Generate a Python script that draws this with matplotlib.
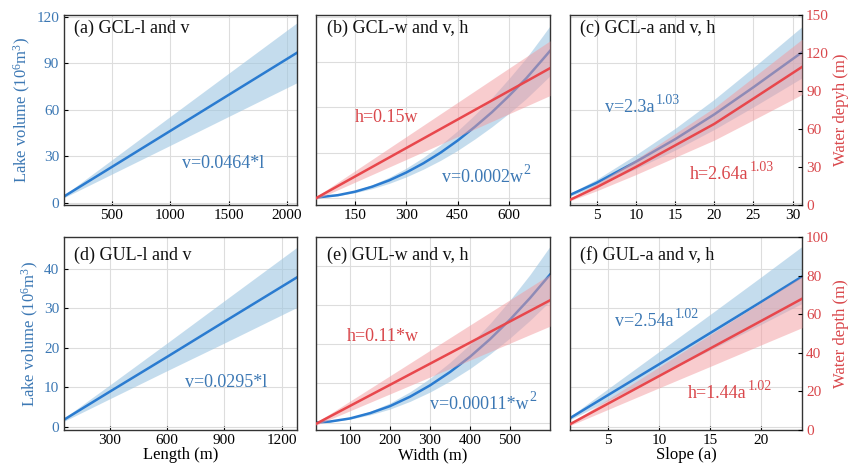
import matplotlib
matplotlib.use("Agg")
import matplotlib.pyplot as plt

plt.rcParams['font.family'] = ['Liberation Serif', 'DejaVu Serif']
plt.rcParams['mathtext.fontset'] = 'custom'
plt.rcParams['mathtext.rm'] = 'Liberation Serif'
plt.rcParams['mathtext.it'] = 'Liberation Serif:italic'
plt.rcParams['mathtext.bf'] = 'Liberation Serif:bold'

# ---------------- data ----------------
# (a) GCL length vs volume
a_l = [90, 500, 1000, 1500, 2085]
a_v = [4.2, 23.2, 46.4, 69.6, 96.7]
a_v_lo = [3.4, 18.6, 37.1, 55.7, 77.4]
a_v_hi = [5.0, 27.8, 55.7, 83.5, 116.0]

# (b) GCL width vs volume / depth
b_w = [36, 100, 150, 200, 250, 300, 350, 400, 450, 500, 550, 600, 650, 700, 720]
b_v = [0.3, 1.9, 4.2, 7.5, 11.7, 16.9, 23.0, 30.0, 38.0, 47.0, 56.7, 67.5, 79.0, 92.0, 97.3]
b_v_lo = [0.25, 1.6, 3.5, 6.2, 9.7, 14.0, 19.1, 24.9, 31.5, 39.0, 47.1, 56.0, 65.6, 76.4, 80.8]
b_v_hi = [0.35, 2.2, 4.9, 8.8, 13.7, 19.8, 26.9, 35.1, 44.5, 55.0, 66.3, 79.0, 92.4, 107.6, 113.8]
b_hw = [36, 200, 400, 600, 720]
b_h = [5.4, 30.0, 60.0, 90.0, 108.0]
b_h_lo = [4.3, 24.0, 48.0, 72.0, 86.4]
b_h_hi = [6.5, 36.0, 72.0, 108.0, 129.6]

# (c) GCL slope vs volume / depth
c_a = [1.6, 5, 10, 15, 20, 25, 31.2]
c_v = [5.2, 13.0, 26.5, 41.0, 57.0, 74.5, 97.0]
c_v_lo = [4.3, 10.8, 22.0, 34.0, 47.3, 61.8, 80.5]
c_v_hi = [6.1, 15.2, 31.0, 48.0, 66.7, 87.2, 113.5]
c_h = [4.1, 14.0, 30.0, 47.0, 64.0, 84.0, 109.0]
c_h_lo = [3.3, 11.2, 24.0, 37.6, 51.2, 67.2, 87.2]
c_h_hi = [4.9, 16.8, 36.0, 56.4, 76.8, 100.8, 130.8]

# (d) GUL length vs volume
d_l = [60, 300, 600, 900, 1280]
d_v = [1.8, 8.9, 17.7, 26.6, 37.8]
d_v_lo = [1.4, 7.1, 14.2, 21.2, 30.2]
d_v_hi = [2.2, 10.6, 21.2, 31.9, 45.4]

# (e) GUL width vs volume / depth
e_w = [15, 50, 100, 150, 200, 250, 300, 350, 400, 450, 500, 550, 600]
e_v = [0.02, 0.26, 1.05, 2.4, 4.2, 6.6, 9.5, 12.9, 16.8, 21.3, 26.3, 31.8, 37.8]
e_v_lo = [0.02, 0.21, 0.86, 1.97, 3.44, 5.41, 7.79, 10.6, 13.8, 17.5, 21.6, 26.1, 31.0]
e_v_hi = [0.02, 0.31, 1.25, 2.86, 5.0, 7.85, 11.3, 15.4, 20.0, 25.3, 31.3, 37.8, 45.0]
e_hw = [15, 200, 400, 600]
e_h = [3.2, 23.4, 45.3, 67.2]
e_h_lo = [2.5, 18.7, 36.2, 53.8]
e_h_hi = [3.8, 28.1, 54.4, 80.6]

# (f) GUL slope vs volume / depth
f_a = [1.3, 5, 10, 15, 20, 24]
f_v = [2.2, 8.0, 15.8, 23.7, 31.6, 38.0]
f_v_lo = [1.8, 6.6, 13.0, 19.4, 25.9, 31.2]
f_v_hi = [2.6, 9.6, 19.0, 28.4, 37.9, 45.6]
f_h = [3.0, 13.6, 27.9, 42.2, 56.5, 68.0]
f_h_lo = [2.3, 10.6, 21.8, 32.9, 44.1, 53.0]
f_h_hi = [3.5, 15.9, 32.6, 49.4, 66.1, 79.6]

titles = ["(a) GCL-l and v", "(b) GCL-w and v, h", "(c) GCL-a and v, h",
          "(d) GUL-l and v", "(e) GUL-w and v, h", "(f) GUL-a and v, h"]

# ---------------- style ----------------
BLUE = "#2a7bd0"
BLUE_FILL = "#9ec6e2"
BLUE_TXT = "#3c78b4"
RED = "#e8474c"
RED_FILL = "#f39a9e"
RED_TXT = "#d9474b"
GRID = "#dddddd"
SPINE = "#333333"

W, H = 850, 470
fig = plt.figure(figsize=(W / 100, H / 100), dpi=100)

def rect(x0, x1, y0, y1):
    return [x0 / W, 1 - y1 / H, (x1 - x0) / W, (y1 - y0) / H]

cols = [(64, 297), (316, 550), (570, 802)]
rows = [(15, 205), (237, 430)]

def style(ax):
    for s in ax.spines.values():
        s.set_color(SPINE)
        s.set_linewidth(1.0)
    ax.grid(True, color=GRID, lw=0.8)
    ax.set_axisbelow(True)
    ax.tick_params(axis='x', direction='in', length=3, width=0.8, labelsize=11, pad=3,
                   top=False)
    ax.tick_params(axis='y', direction='in', length=3, width=0.8, labelsize=11,
                   labelcolor=BLUE_TXT, right=False)

def make_twin(ax, ylim, ticks=None, label=None):
    tw = ax.twinx()
    tw.set_ylim(*ylim)
    for s in tw.spines.values():
        s.set_visible(False)
    if ticks is None:
        tw.tick_params(axis='y', left=False, right=False, labelleft=False,
                       labelright=False)
    else:
        tw.set_yticks(ticks)
        tw.tick_params(axis='y', direction='in', length=3, width=0.8, labelsize=11,
                       labelcolor=RED_TXT, pad=3, left=False, labelleft=False,
                       right=True, labelright=True)
        tw.set_ylabel(label, fontsize=12, color=RED_TXT, labelpad=3)
    # twinx() turns the host's left ticks back on: switch them off again
    ax.tick_params(axis='y', left=False, labelleft=False, right=False,
                   labelright=False)
    return tw

def blue(ax, x, y, lo, hi):
    ax.fill_between(x, lo, hi, color=BLUE_FILL, alpha=0.6, lw=0)
    ax.plot(x, y, color=BLUE, lw=1.8)

def red(ax, x, y, lo, hi):
    ax.fill_between(x, lo, hi, color=RED_FILL, alpha=0.5, lw=0)
    ax.plot(x, y, color=RED, lw=1.8)

def title(ax, t, y):
    ax.text(0.045, y, t, transform=ax.transAxes, fontsize=13, ha='left', va='center',
            color='#111111', zorder=10)

def note(ax, t, x, y, c, sup=None):
    base = ax.text(x, y, t, transform=ax.transAxes, fontsize=13, ha='left',
                   va='center', color=c, zorder=10)
    if sup is not None:
        ax.annotate(sup, xy=(1.0, 0.92), xycoords=base, xytext=(0.6, 0),
                    textcoords='offset points', fontsize=10, ha='left',
                    va='center', color=c, zorder=10)

# (a)
ax = fig.add_axes(rect(*cols[0], *rows[0]))
style(ax)
blue(ax, a_l, a_v, a_v_lo, a_v_hi)
ax.set_xlim(90, 2085)
ax.set_ylim(-1.3, 121)
ax.set_xticks([500, 1000, 1500, 2000])
ax.set_yticks([0, 30, 60, 90, 120])
ax.set_ylabel("Lake volume (10$^{6}$m$^{3}$)", fontsize=12, color=BLUE_TXT, labelpad=2)
title(ax, titles[0], 0.93)
note(ax, "v=0.0464*l", 0.506, 0.221, BLUE_TXT)

# (b)
ax = fig.add_axes(rect(*cols[1], *rows[0]))
style(ax)
blue(ax, b_w, b_v, b_v_lo, b_v_hi)
ax.set_xlim(36, 720)
ax.set_ylim(-4.6, 121)
ax.set_xticks([150, 300, 450, 600])
ax.set_yticks([0, 30, 60, 90, 120])
tw = make_twin(ax, (0, 150))
red(tw, b_hw, b_h, b_h_lo, b_h_hi)
title(ax, titles[1], 0.93)
note(ax, "h=0.15w", 0.167, 0.458, RED_TXT)
note(ax, "v=0.0002w", 0.538, 0.145, BLUE_TXT, sup="2")

# (c)
ax = fig.add_axes(rect(*cols[2], *rows[0]))
style(ax)
blue(ax, c_a, c_v, c_v_lo, c_v_hi)
ax.set_xlim(1.6, 31.2)
ax.set_ylim(-1.3, 121)
ax.set_xticks([5, 10, 15, 20, 25, 30])
ax.set_yticks([0, 30, 60, 90, 120])
tw = make_twin(ax, (0, 150), [0, 30, 60, 90, 120, 150], "Water depyh (m)")
red(tw, c_a, c_h, c_h_lo, c_h_hi)
title(ax, titles[2], 0.93)
note(ax, "v=2.3a", 0.151, 0.515, BLUE_TXT, sup="1.03")
note(ax, "h=2.64a", 0.517, 0.158, RED_TXT, sup="1.03")

# (d)
ax = fig.add_axes(rect(*cols[0], *rows[1]))
style(ax)
blue(ax, d_l, d_v, d_v_lo, d_v_hi)
ax.set_xlim(60, 1280)
ax.set_ylim(-0.8, 48)
ax.set_xticks([300, 600, 900, 1200])
ax.set_yticks([0, 10, 20, 30, 40])
ax.set_ylabel("Lake volume (10$^{6}$m$^{3}$)", fontsize=12, color=BLUE_TXT, labelpad=2)
ax.set_xlabel("Length (m)", fontsize=12, labelpad=0)
title(ax, titles[3], 0.907)
note(ax, "v=0.0295*l", 0.519, 0.244, BLUE_TXT)

# (e)
ax = fig.add_axes(rect(*cols[1], *rows[1]))
style(ax)
blue(ax, e_w, e_v, e_v_lo, e_v_hi)
ax.set_xlim(15, 600)
ax.set_ylim(-1.9, 47.4)
ax.set_xticks([100, 200, 300, 400, 500])
ax.set_yticks([0, 10, 20, 30, 40])
ax.set_xlabel("Width (m)", fontsize=12, labelpad=0)
tw = make_twin(ax, (0, 100))
red(tw, e_hw, e_h, e_h_lo, e_h_hi)
title(ax, titles[4], 0.907)
note(ax, "h=0.11*w", 0.132, 0.482, RED_TXT)
note(ax, "v=0.00011*w", 0.487, 0.13, BLUE_TXT, sup="2")

# (f)
ax = fig.add_axes(rect(*cols[2], *rows[1]))
style(ax)
blue(ax, f_a, f_v, f_v_lo, f_v_hi)
ax.set_xlim(1.3, 24)
ax.set_ylim(-0.8, 48)
ax.set_xticks([5, 10, 15, 20])
ax.set_yticks([0, 10, 20, 30, 40])
ax.set_xlabel("Slope (a)", fontsize=12, labelpad=0)
tw = make_twin(ax, (0, 100), [0, 20, 40, 60, 80, 100], "Water depth (m)")
red(tw, f_a, f_h, f_h_lo, f_h_hi)
title(ax, titles[5], 0.907)
note(ax, "v=2.54a", 0.194, 0.56, BLUE_TXT, sup="1.02")
note(ax, "h=1.44a", 0.509, 0.19, RED_TXT, sup="1.02")

fig.savefig("out.png", dpi=100)
